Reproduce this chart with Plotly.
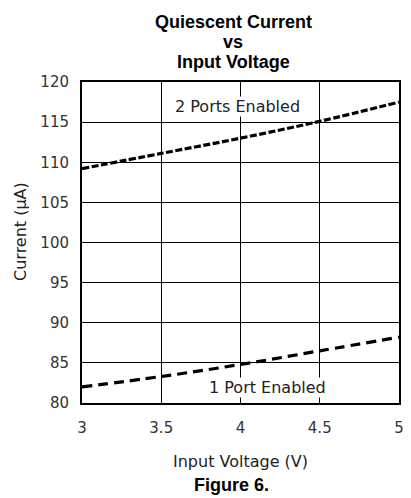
import plotly.graph_objects as go

voltage = [3.0, 3.5, 4.0, 4.5, 5.0]
two_ports = [109.2, 111.1, 113.0, 115.1, 117.5]
one_port = [82.0, 83.3, 84.8, 86.5, 88.2]
x_ticks = [3, 3.5, 4, 4.5, 5]
x_tick_text = ["3", "3.5", "4", "4.5", "5"]
y_ticks = [80, 85, 90, 95, 100, 105, 110, 115, 120]
title_lines = ["Quiescent Current", "vs", "Input Voltage"]

# the page has an 8px body margin, so the figure origin sits at (8, 8) of the window
OFF = 8
W, H = 411 - OFF, 498 - OFF
L, T = 82 - OFF, 82 - OFF
R = W - (404 - OFF)
B = H - (403 - OFF)
PW, PH = W - L - R, H - T - B


def px_x(p):
    return (p - OFF - L) / PW


def px_y(p):
    return (H - B - (p - OFF)) / PH


fig = go.Figure()
fig.add_trace(go.Scatter(x=voltage, y=two_ports, mode="lines",
                         line=dict(color="black", width=3.2, dash="7px,2.5px", shape="spline"),
                         showlegend=False))
fig.add_trace(go.Scatter(x=voltage, y=one_port, mode="lines",
                         line=dict(color="black", width=3.2, dash="10px,6px", shape="spline"),
                         showlegend=False))

tickfont = dict(family="DejaVu Sans", size=15, color="#333")
fig.update_layout(
    width=W, height=H,
    margin=dict(l=L, r=R, t=T, b=B),
    paper_bgcolor="white", plot_bgcolor="white",
    xaxis=dict(range=[3, 5], tickvals=x_ticks, ticktext=x_tick_text,
               showgrid=True, gridcolor="black", gridwidth=1, zeroline=False,
               showline=True, linecolor="black", linewidth=2, mirror=True,
               tickfont=tickfont, ticks="", ticklabelstandoff=10),
    yaxis=dict(range=[80, 120], tickvals=y_ticks,
               showgrid=True, gridcolor="black", gridwidth=1, zeroline=False,
               showline=True, linecolor="black", linewidth=2, mirror=True,
               tickfont=tickfont, ticks="", ticklabelstandoff=8),
)

anns = []
for txt, ypx in zip(title_lines, [22, 42, 62]):
    anns.append(dict(text="<b>%s</b>" % txt, x=px_x(235.5), y=px_y(ypx), xref="paper", yref="paper",
                     showarrow=False, font=dict(family="Liberation Sans", size=18, color="black"),
                     xanchor="center", yanchor="middle"))

labfont = dict(family="DejaVu Sans", size=16, color="#222")
anns.append(dict(text="2 Ports Enabled", x=3.978, y=117.0, xref="x", yref="y", showarrow=False,
                 font=labfont, bgcolor="white", xanchor="center", yanchor="middle", borderpad=0))
anns.append(dict(text="1 Port Enabled", x=4.173, y=81.9, xref="x", yref="y", showarrow=False,
                 font=labfont, bgcolor="white", xanchor="center", yanchor="middle", borderpad=0))
anns.append(dict(text="Input Voltage (V)", x=px_x(243.5), y=px_y(462), xref="paper", yref="paper",
                 showarrow=False, font=labfont, xanchor="center", yanchor="middle"))
anns.append(dict(text="<b>Figure 6.</b>", x=px_x(233.5), y=px_y(485), xref="paper", yref="paper",
                 showarrow=False, font=dict(family="Liberation Sans", size=18, color="black"),
                 xanchor="center", yanchor="middle"))
anns.append(dict(text="Current (\u03bcA)", x=px_x(19), y=px_y(231), xref="paper", yref="paper",
                 showarrow=False, textangle=-90, font=labfont,
                 xanchor="center", yanchor="middle"))
fig.update_layout(annotations=anns)
fig.write_html("out.html")
